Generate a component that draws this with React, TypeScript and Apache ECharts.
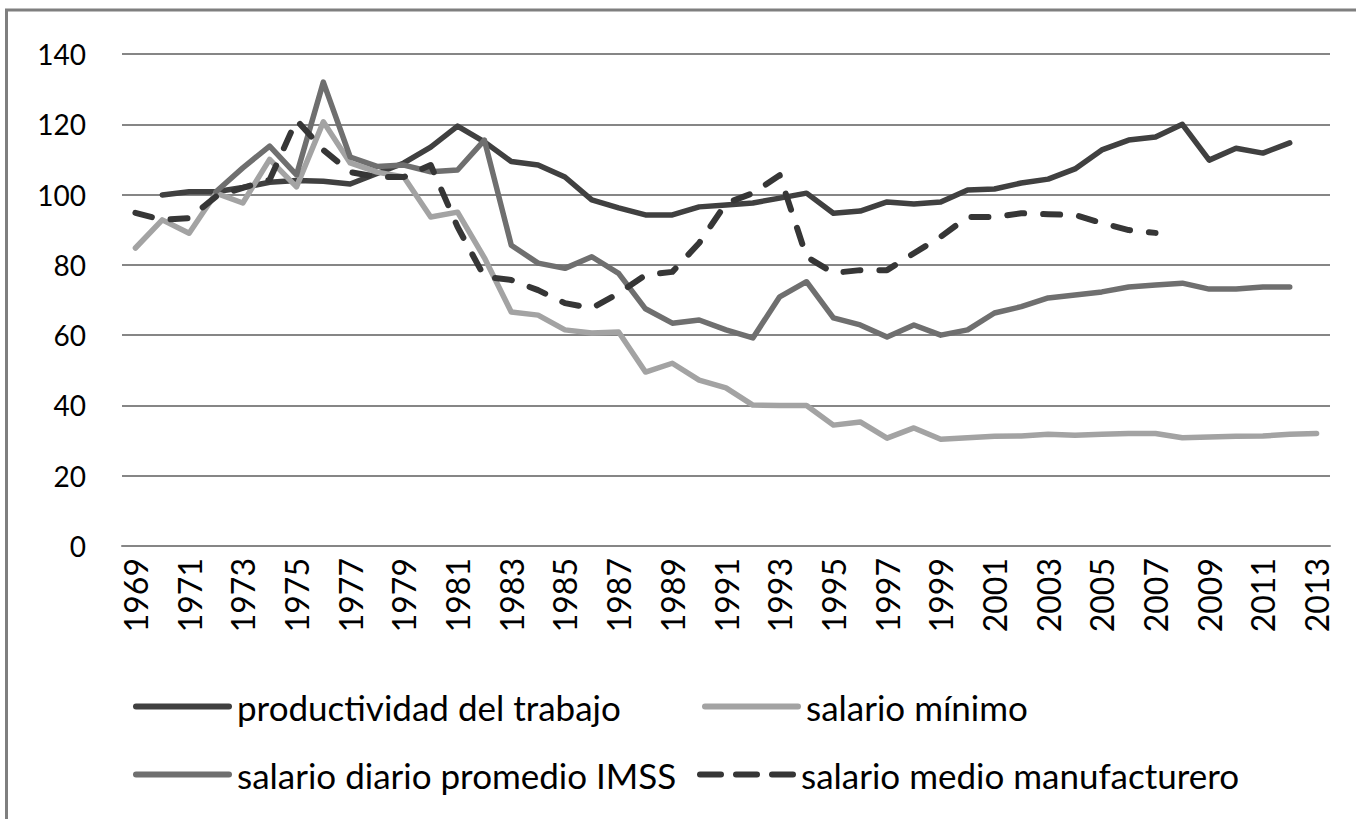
import React, { useEffect, useRef } from "react";
import * as echarts from "echarts";

const years: string[] = [];
for (let y = 1969; y <= 2013; y++) years.push(String(y));

const productividad = [null, 99.9, 100.8, 100.8, 102, 103.5, 104, 103.8, 103, 106, 109, 113.5, 119.5, 115, 109.4, 108.4, 105, 98.5, 96.2, 94.2, 94.2, 96.5, 97, 97.6, 99, 100.4, 94.7, 95.3, 97.9, 97.3, 97.9, 101.3, 101.6, 103.3, 104.4, 107.3, 112.7, 115.5, 116.4, 120, 109.8, 113.2, 111.8, 114.7, null];
const salarioMinimo = [84.8, 92.8, 89, 100.4, 97.6, 110, 102.2, 120.7, 109, 106.4, 105, 93.6, 95, 82, 66.6, 65.7, 61.5, 60.6, 60.9, 49.5, 52, 47.2, 45, 40.1, 40, 40, 34.4, 35.3, 30.7, 33.6, 30.4, 30.8, 31.2, 31.3, 31.8, 31.5, 31.8, 32, 32, 30.8, 31, 31.2, 31.3, 31.8, 32];
const salarioIMSS = [null, null, null, 100.8, 107.6, 113.8, 105.6, 132, 110.7, 108, 108.4, 106.5, 107, 115.5, 85.6, 80.5, 79, 82.3, 77.6, 67.5, 63.4, 64.3, 61.5, 59.2, 70.9, 75.2, 64.9, 62.9, 59.5, 62.9, 60, 61.5, 66.3, 68.1, 70.6, 71.4, 72.3, 73.7, 74.3, 74.8, 73.1, 73.1, 73.7, 73.7, null];
const salarioManufacturero = [94.8, 92.8, 93.3, 99.4, 101.9, 104.2, 121.2, 112.7, 106.4, 105, 105, 108.4, 90.8, 76.6, 75.7, 72.8, 69.1, 67.7, 71.9, 77.1, 78, 86.2, 97.5, 100.4, 105.5, 82.3, 77.7, 78.5, 78.5, 83.3, 88, 93.6, 93.6, 94.7, 94.4, 94.2, 91.9, 89.9, 89.1, null, null, null, null, null, null];

const seriesNames = [
  "productividad del trabajo",
  "salario mínimo",
  "salario diario promedio IMSS",
  "salario medio manufacturero",
];

const FONT = "Lato";

const SOLID_ICON = "path://M3,0 H96 A3,3 0 0 1 96,6 H3 A3,3 0 0 1 3,0 Z";
const DASH_ICON =
  "path://M3,0 H24 A3,3 0 0 1 24,6 H3 A3,3 0 0 1 3,0 Z M39,0 H60 A3,3 0 0 1 60,6 H39 A3,3 0 0 1 39,0 Z M75,0 H96 A3,3 0 0 1 96,6 H75 A3,3 0 0 1 75,0 Z";

export default function App() {
  const ref = useRef<HTMLDivElement>(null);
  useEffect(() => {
    if (!ref.current) return;
    const chart = echarts.init(ref.current, undefined, { renderer: "svg" });
    const legendBase = {
      orient: "horizontal",
      itemWidth: 99,
      itemHeight: 6,
      textStyle: { fontFamily: FONT, fontSize: 35, color: "#000" },
      padding: 0,
    };
    const line = (name: string, data: (number | null)[], color: string, dashed = false) => ({
      name,
      type: "line",
      data,
      symbol: "none",
      connectNulls: false,
      lineStyle: {
        color,
        width: dashed ? 6 : 5.5,
        type: dashed ? [17, 19] : "solid",
        cap: "round",
        join: "round",
      },
      itemStyle: { color },
    });
    chart.setOption({
      animation: false,
      backgroundColor: "#fff",
      graphic: [
        {
          type: "rect",
          shape: { x: 6.5, y: 10, width: 1400, height: 900 },
          style: { fill: "none", stroke: "#7f7f7f", lineWidth: 3 },
          silent: true,
        },
      ],
      grid: { left: 122, right: 26, top: 54, bottom: 273, containLabel: false },
      xAxis: {
        type: "category",
        data: years,
        boundaryGap: true,
        axisLine: { show: true, lineStyle: { color: "#868686", width: 2 } },
        axisTick: { show: false },
        axisLabel: {
          interval: 1,
          rotate: 90,
          margin: 12,
          fontFamily: FONT,
          fontSize: 32,
          color: "#000",
        },
      },
      yAxis: {
        type: "value",
        min: 0,
        max: 140,
        interval: 20,
        axisLine: { show: false },
        axisTick: { show: false },
        splitLine: { lineStyle: { color: "#868686", width: 2 } },
        axisLabel: { margin: 36, fontFamily: FONT, fontSize: 28, color: "#000" },
      },
      legend: [
        { ...legendBase, data: [{ name: seriesNames[0], icon: SOLID_ICON }], left: 133, top: 689 },
        { ...legendBase, data: [{ name: seriesNames[1], icon: SOLID_ICON }], left: 702, top: 689 },
        { ...legendBase, data: [{ name: seriesNames[2], icon: SOLID_ICON }], left: 133, top: 757 },
        { ...legendBase, data: [{ name: seriesNames[3], icon: DASH_ICON }], left: 697, top: 757 },
      ],
      series: [
        line(seriesNames[0], productividad, "#404040"),
        line(seriesNames[1], salarioMinimo, "#a3a3a3"),
        line(seriesNames[2], salarioIMSS, "#6f6f6f"),
        line(seriesNames[3], salarioManufacturero, "#363636", true),
      ],
    });
    return () => chart.dispose();
  }, []);
  return (
    <div
      ref={ref}
      style={{ position: "absolute", left: 0, top: 0, width: 1356, height: 819 }}
    />
  );
}
